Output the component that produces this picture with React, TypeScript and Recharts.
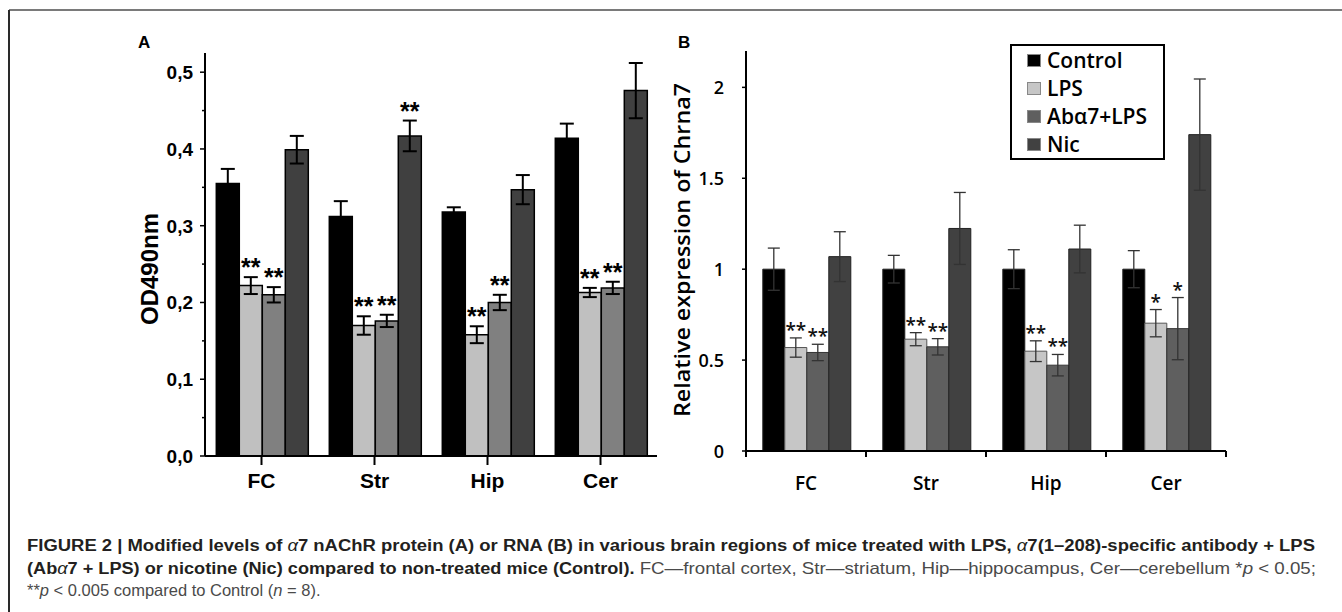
import React from 'react'
import { BarChart, Bar, XAxis, YAxis, ErrorBar, LabelList, Legend } from 'recharts'

const regions = ['FC', 'Str', 'Hip', 'Cer']
const seriesNames = ['Control', 'LPS', 'Abα7+LPS', 'Nic']

// panel A - protein, OD490nm
const aControl = [0.355, 0.312, 0.318, 0.414]
const aControlErr = [0.019, 0.02, 0.006, 0.019]
const aLps = [0.222, 0.17, 0.158, 0.213]
const aLpsErr = [0.011, 0.012, 0.011, 0.006]
const aAb = [0.21, 0.176, 0.2, 0.219]
const aAbErr = [0.01, 0.008, 0.01, 0.008]
const aNic = [0.399, 0.417, 0.347, 0.476]
const aNicErr = [0.018, 0.02, 0.019, 0.036]
const aLpsStars = ['**', '**', '**', '**']
const aAbStars = ['**', '**', '**', '**']
const aNicStars = ['', '**', '', '']
const aTicks = [0, 0.05, 0.1, 0.15, 0.2, 0.25, 0.3, 0.35, 0.4, 0.45, 0.5]

// panel B - RNA, relative expression
const bControl = [1, 1, 1, 1]
const bControlErr = [0.116, 0.076, 0.107, 0.102]
const bLps = [0.569, 0.615, 0.549, 0.703]
const bLpsErr = [0.053, 0.036, 0.057, 0.075]
const bAb = [0.542, 0.573, 0.472, 0.673]
const bAbErr = [0.045, 0.045, 0.059, 0.171]
const bNic = [1.069, 1.224, 1.111, 1.74]
const bNicErr = [0.137, 0.198, 0.131, 0.306]
const bLpsStars = ['**', '**', '**', '*']
const bAbStars = ['**', '**', '**', '*']
const bTicks = [0, 0.5, 1, 1.5, 2]

const aRows = regions.map((region, i) => ({
  region,
  control: aControl[i], controlErr: aControlErr[i],
  lps: aLps[i], lpsErr: aLpsErr[i],
  ab: aAb[i], abErr: aAbErr[i],
  nic: aNic[i], nicErr: aNicErr[i],
}))

const bRows = regions.map((region, i) => ({
  region,
  control: bControl[i], controlErr: bControlErr[i],
  lps: bLps[i], lpsErr: bLpsErr[i],
  ab: bAb[i], abErr: bAbErr[i],
  nic: bNic[i], nicErr: bNicErr[i],
}))

const ARIAL = '"Liberation Sans", Arial, sans-serif'
const CALIB = '"Open Sans", "Noto Sans", sans-serif'

// asterisks sitting above the error bar caps
const stars = (vals: number[], errs: number[], marks: string[], font: any) => (props: any) => {
  const vb = props.viewBox || props
  const i = props.index ?? vals.indexOf(props.value)
  const mark = marks[i]
  if (!mark) return null
  const x = vb.x ?? props.x
  const y = vb.y ?? props.y
  const w = vb.width ?? props.width
  const h = vb.height ?? props.height
  const top = y - errs[i] * (h / vals[i])
  return (
    <text x={x + w / 2} y={top - 1} textAnchor="middle" {...font}>
      {mark}
    </text>
  )
}

const aStarFont = { fontFamily: ARIAL, fontWeight: 700, fontSize: 25, fill: '#000' }
const bStarFont = { fontFamily: CALIB, fontWeight: 600, fontSize: 19, fill: '#111' }

const ATickY = (props: any) => {
  const { x, y, payload } = props
  const v = payload.value
  const major = Math.round(v * 100) % 10 === 0
  return (
    <g>
      <line x1={x - (major ? 5 : 3)} x2={x} y1={y} y2={y} stroke="#000" strokeWidth={1.5} />
      {major && (
        <text x={x - 12} y={y + 7} textAnchor="end" fontFamily={ARIAL} fontWeight={700} fontSize={19} fill="#000">
          {v.toFixed(1).replace('.', ',')}
        </text>
      )}
    </g>
  )
}

const ATickX = (props: any) => {
  const { x, y, payload } = props
  return (
    <text x={x} y={y + 22.5} textAnchor="middle" fontFamily={ARIAL} fontWeight={700} fontSize={21} fill="#000">
      {payload.value}
    </text>
  )
}

const BTickY = (props: any) => {
  const { x, y, payload } = props
  return (
    <g>
      <line x1={x - 4} x2={x} y1={y} y2={y} stroke="#000" strokeWidth={1.5} />
      <text x={x - 22} y={y + 6.5} textAnchor="end" fontFamily={CALIB} fontWeight={600} fontSize={18} fill="#000">
        {payload.value}
      </text>
    </g>
  )
}

const BTickX = (props: any) => {
  const { x, y, payload, index } = props
  const half = payload.offset || 60
  return (
    <g>
      <line x1={x - half} x2={x - half} y1={y} y2={y + 6} stroke="#000" strokeWidth={2} />
      {index === regions.length - 1 && (
        <line x1={x + half} x2={x + half} y1={y} y2={y + 6} stroke="#000" strokeWidth={2} />
      )}
      <text x={x} y={y + 39} textAnchor="middle" fontFamily={CALIB} fontWeight={600} fontSize={19} fill="#000">
        {payload.value}
      </text>
    </g>
  )
}

const BLegend = (props: any) => {
  const items = [...(props.payload || [])].sort(
    (p: any, q: any) => seriesNames.indexOf(p.value) - seriesNames.indexOf(q.value),
  )
  return (
    <div style={{ border: '2px solid #000', background: '#fff', width: 151, height: 112 }}>
      {items.map((it: any) => (
        <div key={it.value} style={{ height: 28, display: 'flex', alignItems: 'center', paddingLeft: 15 }}>
          <span style={{ width: 14, height: 13, background: it.color, border: '1px solid #888', boxSizing: 'border-box', marginRight: 6 }} />
          <span style={{ fontFamily: CALIB, fontWeight: 600, fontSize: 21, color: '#000', lineHeight: '28px' }}>{it.value}</span>
        </div>
      ))}
    </div>
  )
}

const PanelA = () => (
  <BarChart
    width={700}
    height={520}
    data={aRows}
    barGap={0}
    barCategoryGap="10%"
    margin={{ top: 53, right: 43, bottom: 24, left: 145 }}
  >
    <XAxis
      dataKey="region"
      axisLine={{ stroke: '#000', strokeWidth: 2 }}
      tickLine={{ stroke: '#000', strokeWidth: 2 }}
      tickSize={9}
      tickMargin={0}
      height={40}
      tick={<ATickX />}
    />
    <YAxis
      type="number"
      domain={[0, 0.525]}
      allowDataOverflow
      ticks={aTicks}
      interval={0}
      width={60}
      axisLine={{ stroke: '#000', strokeWidth: 2 }}
      tickLine={false}
      tickSize={0}
      tickMargin={0}
      tick={<ATickY />}
      label={{
        content: () => (
          <text x={149} y={269} transform="rotate(-90 149 269)" textAnchor="middle" dy="0.36em"
            fontFamily={ARIAL} fontWeight={700} fontSize={24} fill="#000">
            OD490nm
          </text>
        ),
      }}
    />
    <Bar dataKey="control" name={seriesNames[0]} fill="#000" stroke="#000" strokeWidth={1.5} isAnimationActive={false}>
      <ErrorBar dataKey="controlErr" width={7} stroke="#000" strokeWidth={2} />
    </Bar>
    <Bar dataKey="lps" name={seriesNames[1]} fill="#c0c0c0" stroke="#000" strokeWidth={1.5} isAnimationActive={false}>
      <ErrorBar dataKey="lpsErr" width={7} stroke="#000" strokeWidth={2} />
      <LabelList dataKey="lps" content={stars(aLps, aLpsErr, aLpsStars, aStarFont)} />
    </Bar>
    <Bar dataKey="ab" name={seriesNames[2]} fill="#808080" stroke="#000" strokeWidth={1.5} isAnimationActive={false}>
      <ErrorBar dataKey="abErr" width={7} stroke="#000" strokeWidth={2} />
      <LabelList dataKey="ab" content={stars(aAb, aAbErr, aAbStars, aStarFont)} />
    </Bar>
    <Bar dataKey="nic" name={seriesNames[3]} fill="#404040" stroke="#000" strokeWidth={1.5} isAnimationActive={false}>
      <ErrorBar dataKey="nicErr" width={7} stroke="#000" strokeWidth={2} />
      <LabelList dataKey="nic" content={stars(aNic, aNicErr, aNicStars, aStarFont)} />
    </Bar>
  </BarChart>
)

const PanelB = () => (
  <BarChart
    width={600}
    height={520}
    data={bRows}
    barGap={0}
    barCategoryGap="14%"
    margin={{ top: 51, right: 14, bottom: 19, left: 46 }}
  >
    <XAxis
      dataKey="region"
      axisLine={{ stroke: '#000', strokeWidth: 2 }}
      tickLine={false}
      tickSize={0}
      tickMargin={0}
      height={50}
      tick={<BTickX />}
    />
    <YAxis
      type="number"
      domain={[0, 2.2]}
      allowDataOverflow
      ticks={bTicks}
      interval={0}
      width={60}
      axisLine={{ stroke: '#000', strokeWidth: 2 }}
      tickLine={false}
      tickSize={0}
      tickMargin={0}
      tick={<BTickY />}
      label={{
        content: () => (
          <text x={42} y={250} transform="rotate(-90 42 250)" textAnchor="middle" dy="0.36em"
            textLength={334} lengthAdjust="spacingAndGlyphs"
            fontFamily={CALIB} fontWeight={600} fontSize={22} fill="#000">
            Relative expression of Chrna7
          </text>
        ),
      }}
    />
    <Legend
      layout="vertical"
      align="center"
      verticalAlign="middle"
      content={<BLegend />}
      wrapperStyle={{ position: 'absolute', left: 370, top: 44, width: 155, height: 116 }}
    />
    <Bar dataKey="control" name={seriesNames[0]} fill="#000" stroke="#222" strokeWidth={1} isAnimationActive={false}>
      <ErrorBar dataKey="controlErr" width={6} stroke="#333" strokeWidth={1.3} />
    </Bar>
    <Bar dataKey="lps" name={seriesNames[1]} fill="#c6c6c6" stroke="#555" strokeWidth={1} isAnimationActive={false}>
      <ErrorBar dataKey="lpsErr" width={6} stroke="#333" strokeWidth={1.3} />
      <LabelList dataKey="lps" content={stars(bLps, bLpsErr, bLpsStars, bStarFont)} />
    </Bar>
    <Bar dataKey="ab" name={seriesNames[2]} fill="#5f5f5f" stroke="#333" strokeWidth={1} isAnimationActive={false}>
      <ErrorBar dataKey="abErr" width={6} stroke="#333" strokeWidth={1.3} />
      <LabelList dataKey="ab" content={stars(bAb, bAbErr, bAbStars, bStarFont)} />
    </Bar>
    <Bar dataKey="nic" name={seriesNames[3]} fill="#414141" stroke="#222" strokeWidth={1} isAnimationActive={false}>
      <ErrorBar dataKey="nicErr" width={6} stroke="#333" strokeWidth={1.3} />
    </Bar>
  </BarChart>
)

const capBold = { fontFamily: ARIAL, fontWeight: 700, fontSize: 16, fill: '#231f20' }
const capReg = { fontFamily: ARIAL, fontWeight: 400, fontSize: 16.5, fill: '#4a4a4a' }

export default function App() {
  return (
    <div style={{ position: 'absolute', left: 0, top: 0, width: 1342, height: 612, background: '#fff', overflow: 'hidden' }}>
      <div style={{ position: 'absolute', left: 0, top: 0 }}>
        <PanelA />
      </div>
      <div style={{ position: 'absolute', left: 640, top: 0 }}>
        <PanelB />
      </div>
      <svg width={1342} height={612} style={{ position: 'absolute', left: 0, top: 0, pointerEvents: 'none' }}>
        <line x1={9} x2={1342} y1={10} y2={10} stroke="#7a7a7a" strokeWidth={2} />
        <line x1={9} x2={9} y1={10} y2={612} stroke="#2a2a2a" strokeWidth={2} />
        <text x={138} y={48} fontFamily={ARIAL} fontWeight={700} fontSize={17} fill="#000">A</text>
        <text x={678} y={48} fontFamily={ARIAL} fontWeight={700} fontSize={17} fill="#000">B</text>
        <text x={27} y={551} textLength={1288} lengthAdjust="spacingAndGlyphs" {...capBold}>
          FIGURE 2 | Modified levels of <tspan fontStyle="italic" fontWeight={400}>α</tspan>7 nAChR protein (A) or RNA (B) in various brain regions of mice treated with LPS, <tspan fontStyle="italic" fontWeight={400}>α</tspan>7(1–208)-specific antibody + LPS
        </text>
        <text x={27} y={574} textLength={1289} lengthAdjust="spacingAndGlyphs" {...capBold}>
          (Ab<tspan fontStyle="italic" fontWeight={400}>α</tspan>7 + LPS) or nicotine (Nic) compared to non-treated mice (Control).
          <tspan {...capReg}> FC—frontal cortex, Str—striatum, Hip—hippocampus, Cer—cerebellum *<tspan fontStyle="italic">p</tspan> &lt; 0.05;</tspan>
        </text>
        <text x={27} y={596} {...capReg}>
          **<tspan fontStyle="italic">p</tspan> &lt; 0.005 compared to Control (<tspan fontStyle="italic">n</tspan> = 8).
        </text>
      </svg>
    </div>
  )
}
